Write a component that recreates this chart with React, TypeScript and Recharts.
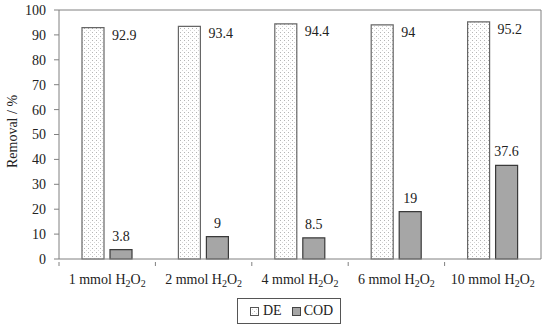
// Removal (%) of DE and COD for increasing H2O2 doses — grouped bars.
import { Bar, BarChart, LabelList, ReferenceLine, XAxis, YAxis, Legend } from "recharts";

const DOSES = ["1", "2", "4", "6", "10"];
const DE = [92.9, 93.4, 94.4, 94, 95.2];
const COD = [3.8, 9, 8.5, 19, 37.6];
const Y_TICKS = [0, 10, 20, 30, 40, 50, 60, 70, 80, 90, 100];

const FONT = "'Liberation Serif', 'DejaVu Serif', serif";
const data = DOSES.map((d, i) => ({ dose: d, DE: DE[i], COD: COD[i] }));

function DoseTick(props: any) {
  const { x, y, payload, index } = props;
  const half = payload?.offset ?? 48.3;
  return (
    <g>
      {index === 0 && <line x1={x - half} x2={x - half} y1={y - 5} y2={y - 1} stroke="#808080" />}
      {index < DOSES.length - 1 && <line x1={x + half} x2={x + half} y1={y - 5} y2={y - 1} stroke="#808080" />}
      <text x={x} y={y + 17} textAnchor="middle" fontFamily={FONT} fontSize={14} fill="#222">
        {payload.value} mmol H
        <tspan fontSize={10} dy={3}>2</tspan>
        <tspan dy={-3}>O</tspan>
        <tspan fontSize={10} dy={3}>2</tspan>
      </text>
    </g>
  );
}

function DeLabel(props: any) {
  const { x, y, width, value } = props;
  return (
    <text x={x + width + 8} y={y + 12} fontFamily={FONT} fontSize={14} fill="#222">{value}</text>
  );
}

function YTitle(props: any) {
  const { viewBox } = props;
  const cx = viewBox.x + 12;
  const cy = viewBox.y + viewBox.height / 2 - 3;
  return (
    <text x={cx} y={cy} transform={`rotate(-90 ${cx} ${cy})`} textAnchor="middle" dominantBaseline="central"
      fontFamily={FONT} fontSize={14} fill="#222">Removal / %</text>
  );
}

function LegendBox() {
  return (
    <div style={{ display: "flex", alignItems: "center", border: "1px solid #555", height: 26, width: 104,
      boxSizing: "border-box", fontFamily: FONT, fontSize: 14, color: "#222", paddingLeft: 12 }}>
      <svg width={9} height={9} style={{ marginRight: 4 }}><rect x={0.5} y={0.5} width={8} height={8} fill="url(#dots)" stroke="#555" /></svg>
      <span style={{ marginRight: 10 }}>DE</span>
      <svg width={9} height={9} style={{ marginRight: 3 }}><rect x={0.5} y={0.5} width={8} height={8} fill="#a6a6a6" stroke="#444" /></svg>
      <span>COD</span>
    </div>
  );
}

export default function App() {
  return (
    <div style={{ position: "absolute", left: 0, top: 0, width: 550, height: 332, background: "#fff", fontFamily: FONT }}>
      <svg width={0} height={0} style={{ position: "absolute" }}>
        <defs>
          <pattern id="dots" width={4} height={4} patternUnits="userSpaceOnUse">
            <rect width={4} height={4} fill="#fff" />
            <rect x={0} y={0} width={1} height={1} fill="#b4b4b4" />
            <rect x={2} y={2} width={1} height={1} fill="#d4d4d4" />
          </pattern>
        </defs>
      </svg>
      <BarChart width={550} height={332} data={data} margin={{ top: 10, right: 8, bottom: 8, left: 0 }}
        barSize={22} barGap={6}>
        <XAxis dataKey="dose" tick={<DoseTick />} tickLine={false} axisLine={{ stroke: "#808080" }}
          height={39} interval={0} />
        <YAxis yAxisId="l" domain={[0, 100]} ticks={Y_TICKS} width={59} tickSize={5} tickMargin={8}
          axisLine={{ stroke: "#808080" }} tickLine={{ stroke: "#808080" }}
          tick={{ fontFamily: FONT, fontSize: 14, fill: "#222" }}
          label={<YTitle />} />
        <YAxis yAxisId="r" orientation="right" domain={[0, 100]} width={1} tick={false} tickLine={false}
          axisLine={{ stroke: "#808080" }} />
        <ReferenceLine yAxisId="l" y={100} stroke="#808080" />
        <Legend verticalAlign="bottom" content={<LegendBox />} wrapperStyle={{ left: 237, width: 104, height: 26 }} />
        <Bar yAxisId="l" dataKey="DE" fill="url(#dots)" stroke="#666" strokeWidth={1.2} isAnimationActive={false}>
          <LabelList dataKey="DE" content={<DeLabel />} />
        </Bar>
        <Bar yAxisId="l" dataKey="COD" fill="#a6a6a6" stroke="#3a3a3a" strokeWidth={1.2} isAnimationActive={false}>
          <LabelList dataKey="COD" position="top" offset={9} fontFamily={FONT} fontSize={14} fill="#222" />
        </Bar>
      </BarChart>
    </div>
  );
}
